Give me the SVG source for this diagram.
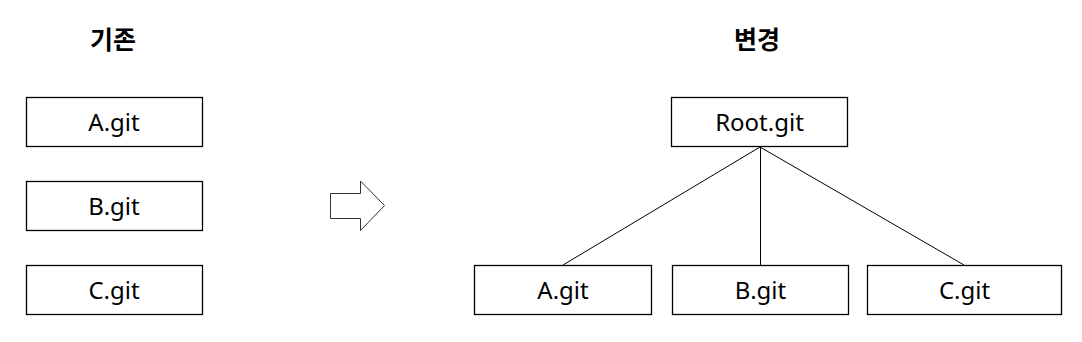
<svg xmlns="http://www.w3.org/2000/svg" width="1082" height="342" viewBox="0 0 1082 342">
<style>
.box{fill:#fff;stroke:#000;stroke-width:1.3}
.lbl{font-family:"Noto Sans","Open Sans",sans-serif;font-size:24px;text-anchor:middle;fill:#000}
.ttl{font-family:"Noto Sans CJK KR","Noto Sans",sans-serif;font-size:25px;font-weight:bold;text-anchor:middle;fill:#000}
.con{stroke:#000;stroke-width:1;fill:none}
</style>
<rect width="1082" height="342" fill="#fff"/>
<g id="title-before"><text class="ttl" x="113" y="49">기존</text></g>
<g id="title-after"><text class="ttl" x="757" y="49">변경</text></g>
<g id="old-a"><rect class="box" x="26.5" y="97.5" width="176" height="49"/><text class="lbl" x="114" y="131">A.git</text></g>
<g id="old-b"><rect class="box" x="26.5" y="181.5" width="176" height="49"/><text class="lbl" x="114" y="215">B.git</text></g>
<g id="old-c"><rect class="box" x="26.5" y="265.5" width="176" height="49"/><text class="lbl" x="114" y="299">C.git</text></g>
<g id="arrow"><polygon points="330.5,193.5 360.5,193.5 360.5,181 384.5,205.5 360.5,230.5 360.5,218.5 330.5,218.5" fill="#fff" stroke="#333" stroke-width="1"/></g>
<g id="connectors">
<line class="con" x1="760" y1="147" x2="563" y2="265"/>
<line class="con" x1="760.5" y1="147" x2="760.5" y2="265"/>
<line class="con" x1="760" y1="147" x2="964" y2="265"/>
</g>
<g id="root"><rect class="box" x="671.5" y="97.5" width="176" height="49"/><text class="lbl" x="759.5" y="131">Root.git</text></g>
<g id="new-a"><rect class="box" x="474.5" y="265.5" width="177" height="49"/><text class="lbl" x="563" y="299">A.git</text></g>
<g id="new-b"><rect class="box" x="672.5" y="265.5" width="176" height="49"/><text class="lbl" x="760.5" y="299">B.git</text></g>
<g id="new-c"><rect class="box" x="867.5" y="265.5" width="194" height="49"/><text class="lbl" x="964.5" y="299">C.git</text></g>
</svg>
